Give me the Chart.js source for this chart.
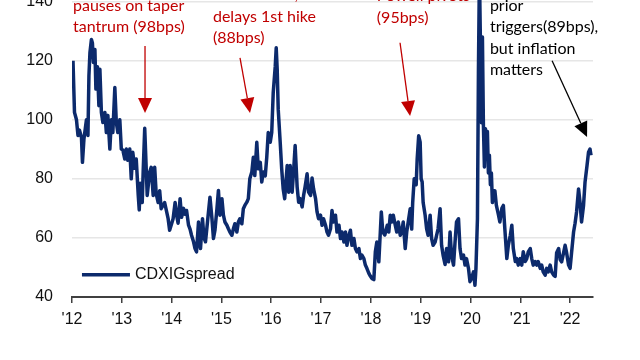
<!DOCTYPE html>
<html lang="en">
<head>
    <meta charset="UTF-8">
    <title>CDX IG spread</title>
    <style>
        html, body { margin: 0; padding: 0; background: #fff; overflow: hidden; }
        #wrap { position: absolute; left: 0; top: -86px; width: 640px; height: 448px; }
    </style>
</head>
<body>
    <div id="wrap">
        <canvas id="spreadChart" width="640" height="448"></canvas>
    </div>

    <script src="https://cdn.jsdelivr.net/npm/chart.js"></script>

    <script>
        // dates as decimal years, spread in bps
        const dates = [
            2012.02, 2012.05, 2012.09, 2012.12, 2012.15, 2012.19, 2012.21, 2012.24, 2012.29, 2012.32,
            2012.34, 2012.36, 2012.39, 2012.41, 2012.43, 2012.46, 2012.48, 2012.51, 2012.54, 2012.56,
            2012.59, 2012.62, 2012.66, 2012.69, 2012.72, 2012.76, 2012.79, 2012.82, 2012.86, 2012.89,
            2012.92, 2012.96, 2012.99, 2013.02, 2013.06, 2013.09, 2013.12, 2013.16, 2013.19, 2013.22,
            2013.26, 2013.29, 2013.33, 2013.35, 2013.37, 2013.41, 2013.43, 2013.46, 2013.51, 2013.56,
            2013.59, 2013.63, 2013.66, 2013.69, 2013.73, 2013.76, 2013.79, 2013.86, 2013.93, 2013.96,
            2014.03, 2014.07, 2014.10, 2014.13, 2014.17, 2014.20, 2014.24, 2014.27, 2014.30, 2014.34,
            2014.37, 2014.40, 2014.44, 2014.47, 2014.50, 2014.54, 2014.56, 2014.58, 2014.62, 2014.65,
            2014.68, 2014.72, 2014.77, 2014.81, 2014.84, 2014.87, 2014.91, 2014.94, 2014.97, 2015.01,
            2015.04, 2015.07, 2015.11, 2015.14, 2015.17, 2015.21, 2015.24, 2015.27, 2015.31, 2015.34,
            2015.37, 2015.41, 2015.44, 2015.47, 2015.51, 2015.54, 2015.57, 2015.61, 2015.64, 2015.67,
            2015.71, 2015.74, 2015.78, 2015.81, 2015.84, 2015.88, 2015.91, 2015.94, 2015.98, 2016.01,
            2016.04, 2016.08, 2016.10, 2016.12, 2016.14, 2016.18, 2016.21, 2016.24, 2016.27, 2016.30,
            2016.32, 2016.35, 2016.38, 2016.42, 2016.45, 2016.48, 2016.52, 2016.55, 2016.58, 2016.62,
            2016.65, 2016.68, 2016.72, 2016.75, 2016.79, 2016.82, 2016.85, 2016.89, 2016.92, 2016.95,
            2016.99, 2017.02, 2017.05, 2017.09, 2017.12, 2017.15, 2017.19, 2017.22, 2017.25, 2017.29,
            2017.32, 2017.36, 2017.39, 2017.42, 2017.46, 2017.49, 2017.52, 2017.56, 2017.59, 2017.62,
            2017.66, 2017.69, 2017.72, 2017.76, 2017.79, 2017.82, 2017.86, 2017.89, 2017.92, 2017.96,
            2017.99, 2018.02, 2018.06, 2018.09, 2018.12, 2018.16, 2018.19, 2018.21, 2018.24, 2018.28,
            2018.33, 2018.36, 2018.39, 2018.42, 2018.45, 2018.49, 2018.52, 2018.55, 2018.59, 2018.62,
            2018.65, 2018.69, 2018.72, 2018.75, 2018.79, 2018.82, 2018.84, 2018.87, 2018.91, 2018.93,
            2018.96, 2018.99, 2019.01, 2019.03, 2019.05, 2019.09, 2019.12, 2019.15, 2019.19, 2019.22,
            2019.25, 2019.29, 2019.32, 2019.35, 2019.39, 2019.42, 2019.45, 2019.49, 2019.52, 2019.56,
            2019.59, 2019.62, 2019.66, 2019.69, 2019.72, 2019.76, 2019.79, 2019.82, 2019.86, 2019.89,
            2019.92, 2019.96, 2019.99, 2020.02, 2020.06, 2020.09, 2020.11, 2020.14, 2020.16, 2020.18,
            2020.20, 2020.22, 2020.24, 2020.26, 2020.28, 2020.30, 2020.32, 2020.34, 2020.36, 2020.38,
            2020.40, 2020.42, 2020.44, 2020.46, 2020.49, 2020.52, 2020.56, 2020.59, 2020.63, 2020.66,
            2020.69, 2020.73, 2020.76, 2020.80, 2020.83, 2020.86, 2020.90, 2020.93, 2020.96, 2021.00,
            2021.03, 2021.06, 2021.10, 2021.13, 2021.16, 2021.20, 2021.23, 2021.26, 2021.30, 2021.33,
            2021.36, 2021.40, 2021.43, 2021.46, 2021.50, 2021.53, 2021.56, 2021.60, 2021.63, 2021.67,
            2021.70, 2021.73, 2021.77, 2021.80, 2021.83, 2021.87, 2021.90, 2021.93, 2021.97, 2022.00,
            2022.03, 2022.07, 2022.10, 2022.13, 2022.17, 2022.20, 2022.23, 2022.27, 2022.30, 2022.34,
            2022.37, 2022.40, 2022.42
        ];

        const spread = [
            120, 102.5, 100, 94.7, 96.5, 94, 85.6, 93.5, 100, 94.7,
            114.9, 122.7, 127.2, 126, 119.4, 123.8, 110.4, 118, 104.8, 117.1,
            102.5, 99.1, 102.5, 95.7, 101.5, 90.1, 100, 95.7, 110.9, 99.1,
            95.7, 100, 90.1, 89.8, 86.7, 90.1, 86.3, 90.1, 80, 89,
            83.6, 86.7, 74.4, 69.5, 78.5, 72, 83, 97.1, 74.4, 82.3,
            83.9, 74.4, 83.9, 75, 72, 76, 69.9, 72, 66.5, 62.6,
            66.5, 72, 67.7, 65, 73.3, 67, 70, 68, 69.3, 64.3,
            63, 60.9, 58.7, 56.4, 55.3, 65.4, 58.7, 56.4, 66.5, 60,
            58.7, 65.4, 73.8, 66.5, 59.8, 62.6, 69.9, 76.1, 67.7, 73.3,
            67.7, 65.4, 64.3, 63.1, 62, 60.9, 63.1, 64.8, 62, 65.4,
            66.5, 64.8, 69.9, 71, 72.1, 73.3, 80, 82.3, 87.3, 81.1,
            92.4, 83.4, 85.6, 78.9, 82.3, 81, 87.3, 95.7, 92.4, 95.7,
            109.2, 118, 124.4, 117, 103.6, 92.4, 83.4, 76.6, 73.3, 80,
            84.5, 75.5, 84.5, 75.5, 83, 91.3, 77.3, 72.1, 73.3, 70.5,
            74.4, 77.3, 81.7, 75.5, 74.4, 80.3, 76.6, 73.3, 68.8, 66.5,
            67.7, 64.3, 66.5, 64.3, 62, 60.9, 63.1, 69.3, 65.4, 67.7,
            62, 64.3, 59.8, 62, 58.6, 62, 57.5, 60.9, 62.6, 57.5,
            59.8, 56.4, 55.3, 56.4, 53, 54.2, 53, 50.8, 49.7, 48,
            47.1, 46.3, 45.9, 55.3, 58.6, 51.9, 62, 68.8, 62, 61,
            64.3, 62, 67.7, 65.4, 67.7, 64.3, 62, 65.4, 60.9, 62,
            65.4, 56.4, 62, 65.4, 69.9, 63, 72, 80, 78, 86.7,
            94.6, 92.4, 80, 79, 72, 67.7, 63.1, 60.9, 67.7, 59.8,
            57.5, 58.6, 60.9, 63.1, 69.9, 57.5, 54.2, 51, 56.4, 51.9,
            62, 54.2, 50.8, 58.6, 65.4, 66.5, 56.4, 53, 54.2, 50.8,
            53, 49.7, 45.2, 46.3, 48.5, 44, 49.7, 66.5, 117, 150,
            126, 99, 128, 98, 84, 97, 90, 96, 82, 88,
            78, 82, 72, 76, 76, 71, 68, 65.4, 70, 71,
            63.1, 53, 57.5, 60.9, 64.3, 56.4, 52, 53, 50.8, 53,
            50.8, 55.3, 52, 53, 55.3, 56.4, 53, 50.8, 52, 50.8,
            52, 49.7, 50.8, 48.5, 47.4, 49.7, 48.5, 50.8, 48.5, 47.4,
            47, 55, 56.4, 52.7, 51.9, 55, 57.5, 55, 50.8, 49.7,
            55, 62, 65, 68.8, 76.6, 72, 65.4, 71, 78.9, 84.5,
            89, 90.1, 88
        ];

        const yearTicks = ["'12", "'13", "'14", "'15", "'16", "'17", "'18", "'19", "'20", "'21", "'22"];
        const seriesLabel = 'CDXIGspread';

        // annotation texts, anchored in data units (year, bps)
        const notes = [
            { lines: ['pauses on taper', 'tantrum (98bps)'], x: 2012.02, y: 138.6, color: '#c00000' },
            { lines: ['China deval, Fed', 'delays 1st hike', '(88bps)'], x: 2014.83, y: 142.2, color: '#c00000' },
            { lines: ['Powell pivots', '(95bps)'], x: 2018.12, y: 141.9, color: '#c00000' },
            { lines: ['prior', 'triggers(89bps),', 'but inflation', 'matters'], x: 2020.39, y: 138.6, color: '#000000' }
        ];
        const arrows = [
            { from: [2013.466, 125.0], to: [2013.466, 102.3], color: '#c00000' },
            { from: [2015.373, 121.0], to: [2015.574, 102.3], color: '#c00000' },
            { from: [2018.586, 126.1], to: [2018.787, 101.3], color: '#c00000' },
            { from: [2021.639, 120.0], to: [2022.341, 94.2], color: '#000000' }
        ];

        const navy = '#0c2a6c';
        const points = dates.map((d, i) => ({ x: d, y: spread[i] }));

        const annotationPlugin = {
            id: 'notes',
            afterDatasetsDraw(chart) {
                const ctx = chart.ctx;
                const xs = chart.scales.x;
                const ys = chart.scales.y;

                ctx.save();
                arrows.forEach(a => {
                    const x1 = xs.getPixelForValue(a.from[0]);
                    const y1 = ys.getPixelForValue(a.from[1]);
                    const x2 = xs.getPixelForValue(a.to[0]);
                    const y2 = ys.getPixelForValue(a.to[1]);
                    const ang = Math.atan2(y2 - y1, x2 - x1);
                    const headLen = 15, headW = 7;
                    const bx = x2 - headLen * Math.cos(ang);
                    const by = y2 - headLen * Math.sin(ang);
                    ctx.strokeStyle = a.color;
                    ctx.fillStyle = a.color;
                    ctx.lineWidth = 1.3;
                    ctx.beginPath();
                    ctx.moveTo(x1, y1);
                    ctx.lineTo(bx, by);
                    ctx.stroke();
                    ctx.beginPath();
                    ctx.moveTo(x2, y2);
                    ctx.lineTo(bx + headW * Math.sin(ang), by - headW * Math.cos(ang));
                    ctx.lineTo(bx - headW * Math.sin(ang), by + headW * Math.cos(ang));
                    ctx.closePath();
                    ctx.fill();
                });

                ctx.font = '16px Lato, "Open Sans", sans-serif';
                ctx.textAlign = 'left';
                ctx.textBaseline = 'middle';
                notes.forEach(n => {
                    const x = xs.getPixelForValue(n.x);
                    const y = ys.getPixelForValue(n.y);
                    ctx.fillStyle = n.color;
                    n.lines.forEach((line, i) => ctx.fillText(line, x, y + i * 21.5));
                });

                // legend inside the plot
                const ly = ys.getPixelForValue(47.5);
                const lx = xs.getPixelForValue(2012.2);
                ctx.strokeStyle = navy;
                ctx.lineWidth = 3.5;
                ctx.beginPath();
                ctx.moveTo(lx, ly);
                ctx.lineTo(lx + 48, ly);
                ctx.stroke();
                ctx.fillStyle = '#111';
                ctx.font = '16px "Liberation Sans", Arial, sans-serif';
                ctx.fillText(seriesLabel, lx + 53, ly);
                ctx.restore();
            }
        };

        const ctx = document.getElementById('spreadChart').getContext('2d');
        const chart = new Chart(ctx, {
            type: 'line',
            data: {
                datasets: [{
                    label: seriesLabel,
                    data: points,
                    borderColor: navy,
                    borderWidth: 3.5,
                    borderJoinStyle: 'round',
                    pointRadius: 0,
                    tension: 0,
                    fill: false
                }]
            },
            options: {
                responsive: false,
                animation: false,
                devicePixelRatio: 1,
                layout: { padding: { left: 0, right: 47, top: 0, bottom: 0 } },
                plugins: {
                    legend: { display: false },
                    tooltip: { enabled: false }
                },
                scales: {
                    x: {
                        type: 'linear',
                        min: 2012,
                        max: 2022.46,
                        afterFit: s => { s.height = 65; },
                        afterBuildTicks: s => {
                            s.ticks = yearTicks.map((t, i) => ({ value: 2012 + i }));
                        },
                        ticks: {
                            callback: (v, i) => yearTicks[i],
                            autoSkip: false,
                            maxRotation: 0,
                            padding: 7,
                            color: '#111',
                            font: { family: '"Liberation Sans", Arial, sans-serif', size: 16 }
                        },
                        grid: {
                            drawOnChartArea: false,
                            drawTicks: true,
                            tickLength: 6,
                            color: '#404040',
                            lineWidth: 1.5
                        },
                        border: { display: true, color: '#404040', width: 2 }
                    },
                    y: {
                        min: 40,
                        max: 160,
                        afterFit: s => { s.width = 72; },
                        ticks: {
                            stepSize: 20,
                            padding: 19,
                            color: '#111',
                            font: { family: '"Liberation Sans", Arial, sans-serif', size: 16 }
                        },
                        grid: {
                            drawTicks: false,
                            color: '#e6e6e6',
                            lineWidth: 1.5
                        },
                        border: { display: false }
                    }
                }
            },
            plugins: [annotationPlugin]
        });
    </script>
</body>
</html>
